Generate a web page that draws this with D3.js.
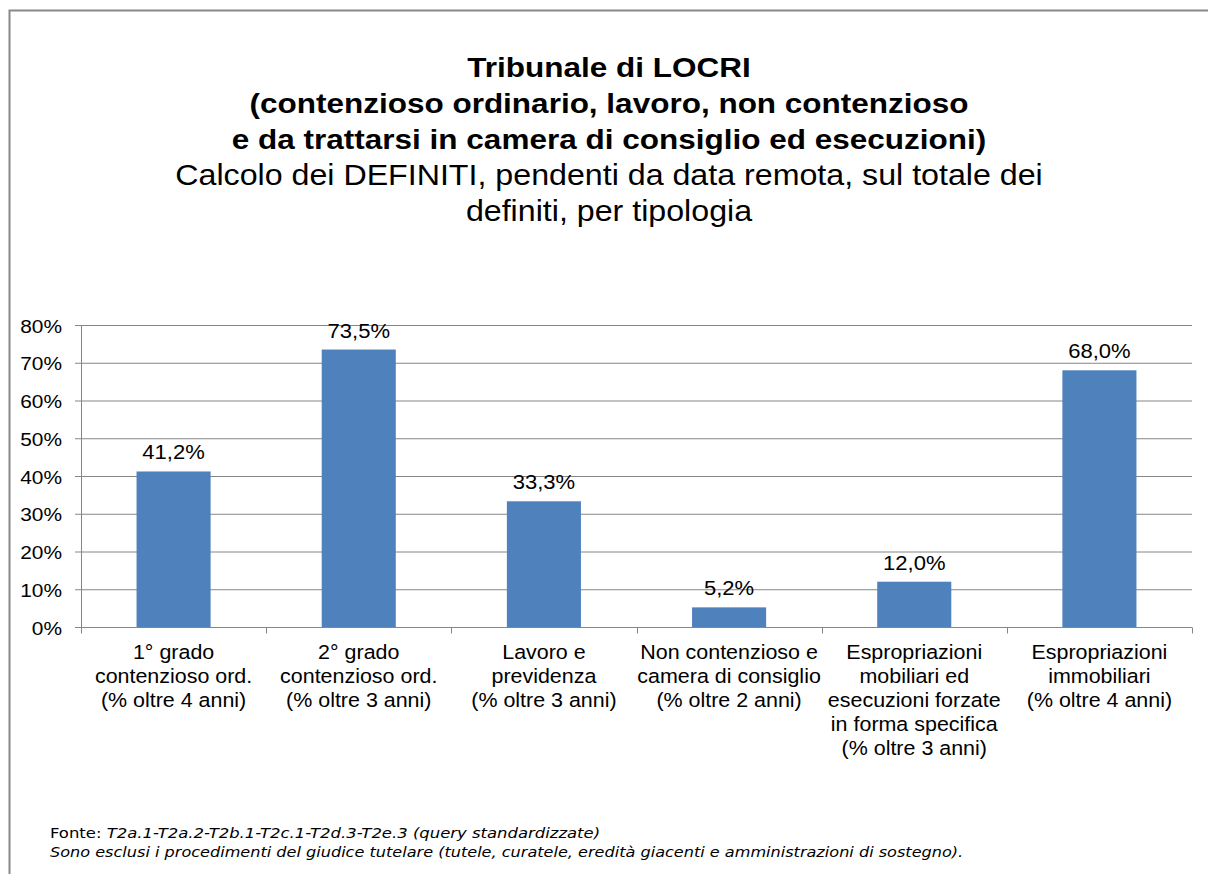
<!DOCTYPE html>
<html>
<head>
<meta charset="utf-8">
<script src="https://d3js.org/d3.v7.min.js"></script>
<style>
  body { margin: 0; background: #fff; }
  text { font-family: Arial, "Liberation Sans", sans-serif; fill: #000; }
</style>
</head>
<body>
<svg id="vis"></svg>
<script>
  var categories = [
    ["1° grado", "contenzioso ord.", "(% oltre 4 anni)"],
    ["2° grado", "contenzioso ord.", "(% oltre 3 anni)"],
    ["Lavoro e", "previdenza", "(% oltre 3 anni)"],
    ["Non contenzioso e", "camera di consiglio", "(% oltre 2 anni)"],
    ["Espropriazioni", "mobiliari ed", "esecuzioni forzate", "in forma specifica", "(% oltre 3 anni)"],
    ["Espropriazioni", "immobiliari", "(% oltre 4 anni)"]
  ]
  var values = [41.2, 73.5, 33.3, 5.2, 12.0, 68.0]
  var yTicks = [0, 10, 20, 30, 40, 50, 60, 70, 80]
  var titleBold = ["Tribunale di LOCRI", "(contenzioso ordinario, lavoro, non contenzioso", "e da trattarsi in camera di consiglio ed esecuzioni)"]
  var titleNormal = ["Calcolo dei DEFINITI, pendenti da data remota, sul totale dei", "definiti, per tipologia"]

  var width = 1208, height = 874
  var svg = d3.select('#vis').attr('width', width).attr('height', height)

  // text stretched a bit horizontally, like the original export
  function label(g, x, y, sx, str) {
    return g.append('text')
      .attr('transform', 'translate(' + x + ',' + y + ') scale(' + sx + ',1)')
      .text(str)
  }

  // outer frame
  svg.append('rect')
    .attr('x', 9.5).attr('y', 10.5)
    .attr('width', 1240).attr('height', 900)
    .attr('fill', 'none').attr('stroke', '#888').attr('stroke-width', 2)

  // title
  var title = svg.append('g').attr('text-anchor', 'middle')
  titleBold.forEach(function(t, i) {
    label(title, 609, 77 + i * 36, 1.125, t)
      .attr('font-size', 28).attr('font-weight', 'bold')
  })
  titleNormal.forEach(function(t, i) {
    label(title, 609, 185 + i * 36, 1.11, t)
      .attr('font-size', 29)
  })

  // scales
  var x = d3.scaleBand()
    .domain(d3.range(categories.length))
    .range([81, 1192])
    .paddingInner(0.6).paddingOuter(0.3)
  var xc = d3.scaleBand().domain(d3.range(categories.length)).range([81, 1192])
  var y = d3.scaleLinear().domain([0, 80]).range([627, 325])

  // y axis
  var yAxis = svg.append('g')
    .attr('transform', 'translate(81,0)')
    .call(d3.axisLeft(y).tickValues(yTicks).tickSize(6).tickFormat(function(d) { return d + '%' }))
  yAxis.select('.domain').attr('stroke', '#868686')
  yAxis.selectAll('.tick line').attr('stroke', '#868686')
  yAxis.selectAll('.tick text')
    .attr('font-size', 18.5).attr('font-family', 'Arial, "Liberation Sans", sans-serif').attr('fill', '#000')
    .attr('transform', 'scale(1.13,1)')
    .attr('x', -19 / 1.13).attr('dy', null).attr('y', 7)

  // gridlines
  svg.append('g').selectAll('line')
    .data(yTicks.filter(function(d) { return d > 0 }))
    .enter().append('line')
      .attr('x1', 81).attr('x2', 1192)
      .attr('y1', function(d) { return y(d) + 0.5 }).attr('y2', function(d) { return y(d) + 0.5 })
      .attr('stroke', '#868686')

  // bars
  svg.append('g').selectAll('rect')
    .data(values)
    .enter().append('rect')
      .attr('x', function(d, i) { return x(i) })
      .attr('width', x.bandwidth())
      .attr('y', function(d) { return y(d) })
      .attr('height', function(d) { return y(0) - y(d) })
      .attr('fill', '#4F81BD')

  // x axis
  var xAxisG = svg.append('g').attr('transform', 'translate(0,627.5)')
  xAxisG.append('line').attr('x1', 76).attr('x2', 1192).attr('stroke', '#868686')
  xAxisG.selectAll('.xt')
    .data(d3.range(categories.length + 1))
    .enter().append('line')
      .attr('x1', function(i) { return Math.round(81 + i * xc.bandwidth()) + 0.5 })
      .attr('x2', function(i) { return Math.round(81 + i * xc.bandwidth()) + 0.5 })
      .attr('y1', 0).attr('y2', 6)
      .attr('stroke', '#868686')

  // value labels
  var vals = svg.append('g').attr('text-anchor', 'middle').attr('font-size', 19.5)
  values.forEach(function(d, i) {
    label(vals, x(i) + x.bandwidth() / 2, y(d) - 12, 1.13, d.toFixed(1).replace('.', ',') + '%')
  })

  // category labels
  var cat = svg.append('g').attr('text-anchor', 'middle').attr('font-size', 19.5)
  categories.forEach(function(lines, i) {
    lines.forEach(function(s, j) {
      label(cat, xc(i) + xc.bandwidth() / 2, 659 + j * 24, 1.1, s)
    })
  })

  // footer
  var foot = svg.append('g').attr('font-size', 14)
  var f1 = label(foot, 50, 838, 1.175, '')
    .style('font-family', 'Verdana, "DejaVu Sans", sans-serif')
  f1.append('tspan').text('Fonte: ')
  f1.append('tspan').attr('font-style', 'italic').text('T2a.1-T2a.2-T2b.1-T2c.1-T2d.3-T2e.3 (query standardizzate)')
  label(foot, 50, 857, 1.15, 'Sono esclusi i procedimenti del giudice tutelare (tutele, curatele, eredità giacenti e amministrazioni di sostegno).')
    .style('font-family', 'Verdana, "DejaVu Sans", sans-serif')
    .attr('font-style', 'italic')
</script>
</body>
</html>
